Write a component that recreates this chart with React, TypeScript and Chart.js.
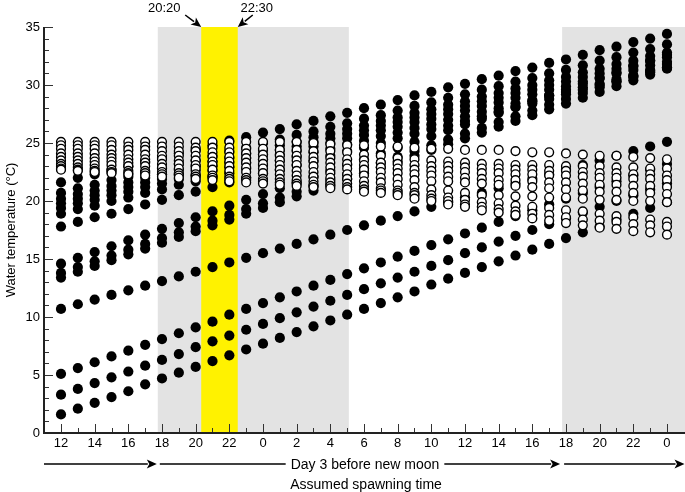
import React, { useEffect, useRef } from 'react';
import { Chart, registerables } from 'chart.js';

Chart.register(...registerables);

// Clock hour at each hourly sample (index 0 = 12:00 on the first day)
const clockHours = [12, 13, 14, 15, 16, 17, 18, 19, 20, 21, 22, 23, 0, 1, 2, 3, 4, 5, 6, 7, 8, 9, 10, 11, 12, 13, 14, 15, 16, 17, 18, 19, 20, 21, 22, 23, 0];
const tickLabels = ['12', '14', '16', '18', '20', '22', '0', '2', '4', '6', '8', '10', '12', '14', '16', '18', '20', '22', '0'];
const yTickValues = [0, 5, 10, 15, 20, 25, 30, 35];

// Shaded periods (hour index from 12:00)
const nightBands = [[5.75, 17.1], [29.77, 37.07]];
const spawnBand = [8.33, 10.5]; // 20:20 - 22:30

// Filled-circle series (water temperature, °C)
const filledL1 = [1.6, 2.1, 2.6, 3.1, 3.6, 4.2, 4.7, 5.2, 5.7, 6.2, 6.7, 7.2, 7.7, 8.2, 8.7, 9.2, 9.7, 10.2, 10.7, 11.2, 11.7, 12.2, 12.8, 13.3, 13.8, 14.3, 14.8, 15.3, 15.8, 16.3, 16.8, 17.3, 17.8, 18.4, 18.9, 19.4, 19.9];
const filledL2 = [3.3, 3.8, 4.3, 4.8, 5.3, 5.8, 6.3, 6.8, 7.4, 7.9, 8.4, 8.9, 9.4, 9.9, 10.4, 10.9, 11.4, 11.9, 12.4, 12.9, 13.4, 13.9, 14.4, 14.9, 15.5, 16.0, 16.5, 17.0, 17.5, 18.0, 18.5, 19.0, 19.5, 20.0, 20.5, 21.0, 21.5];
const filledL3 = [5.1, 5.6, 6.1, 6.6, 7.1, 7.6, 8.1, 8.6, 9.1, 9.6, 10.2, 10.7, 11.2, 11.7, 12.2, 12.7, 13.2, 13.7, 14.2, 14.7, 15.2, 15.7, 16.2, 16.7, 17.2, 17.7, 18.2, 18.7, 19.2, 19.7, 20.2, 20.7, 21.2, 21.7, 22.2, 22.7, 23.2];
const filledL4 = [10.7, 11.1, 11.5, 11.9, 12.3, 12.7, 13.1, 13.5, 13.9, 14.3, 14.7, 15.1, 15.5, 15.9, 16.3, 16.7, 17.1, 17.5, 17.9, 18.3, 18.7, 19.1, 19.5, 19.9, 20.3, 20.7, 21.1, 21.5, 21.9, 22.3, 22.7, 23.1, 23.5, 23.9, 24.3, 24.7, 25.1];
const filledL5 = [13.4, 13.9, 14.4, 14.9, 15.4, 15.9, 16.4, 16.9, 17.4, 17.9, 18.4, 18.9, 19.4, 19.9, 20.4, 20.9, 21.4, 21.9, 22.4, 22.9, 23.4, 23.9, 24.4, 24.9, 25.4, 25.9, 26.4, 26.9, 27.4, 27.9, 28.4, 28.9, 29.4, 29.9, 30.4, 30.9, 31.4];
const filledL6 = [13.8, 14.3, 14.8, 15.3, 15.8, 16.3, 16.8, 17.3, 17.8, 18.3, 18.8, 19.3, 19.8, 20.3, 20.8, 21.3, 21.8, 22.3, 22.8, 23.3, 23.8, 24.3, 24.8, 25.3, 25.8, 26.3, 26.8, 27.3, 27.8, 28.3, 28.8, 29.3, 29.8, 30.3, 30.8, 31.3, 31.8];
const filledL7 = [14.6, 15.1, 15.6, 16.1, 16.6, 17.1, 17.6, 18.1, 18.6, 19.1, 19.6, 20.1, 20.6, 21.1, 21.6, 22.1, 22.6, 23.1, 23.6, 24.1, 24.6, 25.1, 25.6, 26.1, 26.6, 27.1, 27.6, 28.1, 28.6, 29.1, 29.6, 30.1, 30.6, 31.1, 31.6, 32.1, 32.6];
const filledL8 = [17.8, 18.2, 18.6, 18.9, 19.3, 19.7, 20.1, 20.5, 20.8, 21.2, 21.6, 22.0, 22.4, 22.7, 23.1, 23.5, 23.9, 24.3, 24.6, 25.0, 25.4, 25.8, 26.2, 26.5, 26.9, 27.3, 27.7, 28.1, 28.4, 28.8, 29.2, 29.6, 30.0, 30.3, 30.7, 31.1, 31.5];
const filledL9 = [18.9, 19.3, 19.6, 20.0, 20.3, 20.7, 21.0, 21.4, 21.7, 22.1, 22.4, 22.8, 23.1, 23.5, 23.8, 24.2, 24.5, 24.9, 25.2, 25.6, 25.9, 26.3, 26.6, 27.0, 27.3, 27.7, 28.0, 28.4, 28.7, 29.1, 29.4, 29.8, 30.1, 30.5, 30.8, 31.2, 31.5];
const filledL10 = [19.4, 19.8, 20.1, 20.5, 20.8, 21.2, 21.5, 21.9, 22.2, 22.6, 22.9, 23.3, 23.6, 24.0, 24.3, 24.7, 25.0, 25.4, 25.7, 26.1, 26.4, 26.8, 27.1, 27.5, 27.8, 28.2, 28.5, 28.9, 29.2, 29.6, 29.9, 30.3, 30.6, 31.0, 31.3, 31.7, 32.0];
const filledL11 = [19.8, 20.2, 20.5, 20.9, 21.2, 21.6, 21.9, 22.3, 22.6, 23.0, 23.3, 23.7, 24.0, 24.4, 24.7, 25.1, 25.4, 25.8, 26.1, 26.5, 26.8, 27.2, 27.5, 27.9, 28.2, 28.6, 28.9, 29.3, 29.6, 30.0, 30.3, 30.7, 31.0, 31.4, 31.7, 32.1, 32.4];
const filledL12 = [20.2, 20.6, 20.9, 21.3, 21.6, 22.0, 22.3, 22.7, 23.0, 23.4, 23.7, 24.1, 24.4, 24.8, 25.1, 25.5, 25.8, 26.2, 26.5, 26.9, 27.2, 27.6, 27.9, 28.3, 28.6, 29.0, 29.3, 29.7, 30.0, 30.4, 30.7, 31.1, 31.4, 31.8, 32.1, 32.5, 32.8];
const filledL13 = [20.7, 21.1, 21.4, 21.8, 22.1, 22.5, 22.8, 23.2, 23.5, 23.9, 24.3, 24.6, 25.0, 25.3, 25.7, 26.0, 26.4, 26.7, 27.1, 27.4, 27.8, 28.2, 28.5, 28.9, 29.2, 29.6, 29.9, 30.3, 30.6, 31.0, 31.3, 31.7, 32.1, 32.4, 32.8, 33.1, 33.5];
const filledL14 = [21.6, 22.0, 22.3, 22.7, 23.0, 23.4, 23.7, 24.1, 24.4, 24.8, 25.2, 25.5, 25.9, 26.2, 26.6, 26.9, 27.3, 27.6, 28.0, 28.3, 28.7, 29.1, 29.4, 29.8, 30.1, 30.5, 30.8, 31.2, 31.5, 31.9, 32.2, 32.6, 33.0, 33.3, 33.7, 34.0, 34.4];

// Open-circle series (water temperature, °C)
const openO1 = [25.1, 25.1, 25.1, 25.1, 25.1, 25.1, 25.1, 25.1, 25.1, 25.1, 25.1, 25.1, 25.1, 25.1, 25.1, 25.0, 24.9, 24.8, 24.8, 24.7, 24.7, 24.6, 24.5, 24.5, 24.4, 24.4, 24.4, 24.3, 24.2, 24.2, 24.1, 24.0, 23.9, 23.9, 23.8, 23.7, 23.6];
const openO2 = [24.8, 24.8, 24.8, 24.8, 24.7, 24.7, 24.7, 24.7, 24.6, 24.6, 24.6, 24.5, 24.5, 24.4, 24.4, 24.3, 24.3, 24.2, 24.0, 23.9, 23.7, 23.6, 23.5, 23.4, 23.3, 23.2, 23.2, 23.1, 23.1, 23.1, 23.0, 23.0, 23.0, 22.9, 22.9, 22.8, 22.8];
const openO3 = [24.5, 24.5, 24.5, 24.4, 24.4, 24.4, 24.3, 24.3, 24.3, 24.2, 24.2, 24.1, 24.0, 23.9, 23.9, 23.8, 23.7, 23.6, 23.5, 23.3, 23.2, 23.1, 23.0, 23.0, 22.9, 22.8, 22.8, 22.7, 22.7, 22.6, 22.6, 22.5, 22.4, 22.4, 22.3, 22.3, 22.2];
const openO4 = [24.1, 24.1, 24.1, 24.0, 24.0, 24.0, 23.9, 23.9, 23.9, 23.8, 23.8, 23.7, 23.6, 23.5, 23.5, 23.4, 23.3, 23.2, 23.1, 22.9, 22.8, 22.7, 22.6, 22.6, 22.5, 22.4, 22.4, 22.3, 22.3, 22.2, 22.2, 22.1, 22.0, 22.0, 21.9, 21.9, 21.8];
const openO5 = [23.8, 23.8, 23.7, 23.7, 23.6, 23.6, 23.6, 23.5, 23.5, 23.4, 23.4, 23.3, 23.2, 23.1, 23.1, 23.0, 22.9, 22.8, 22.7, 22.5, 22.4, 22.3, 22.2, 22.1, 22.0, 21.9, 21.8, 21.8, 21.7, 21.6, 21.6, 21.5, 21.4, 21.4, 21.3, 21.3, 21.2];
const openO6 = [23.5, 23.5, 23.4, 23.4, 23.3, 23.3, 23.2, 23.2, 23.1, 23.1, 23.0, 22.9, 22.8, 22.7, 22.6, 22.5, 22.4, 22.3, 22.2, 22.0, 21.9, 21.8, 21.7, 21.7, 21.6, 21.5, 21.4, 21.3, 21.2, 21.1, 21.0, 20.9, 20.8, 20.8, 20.7, 20.7, 20.6];
const openO7 = [23.2, 23.2, 23.1, 23.1, 23.0, 23.0, 22.9, 22.8, 22.8, 22.7, 22.6, 22.5, 22.4, 22.3, 22.2, 22.1, 22.0, 21.9, 21.7, 21.6, 21.4, 21.2, 21.0, 20.9, 20.7, 20.5, 20.5, 20.4, 20.4, 20.3, 20.3, 20.2, 20.1, 20.1, 20.0, 20.0, 19.9];
const openO8 = [23.0, 22.9, 22.8, 22.7, 22.6, 22.6, 22.5, 22.4, 22.3, 22.2, 22.1, 22.0, 21.9, 21.9, 21.8, 21.7, 21.6, 21.5, 21.3, 21.1, 20.9, 20.7, 20.5, 20.3, 20.1, 19.9, 19.8, 19.6, 19.5, 19.4, 19.2, 19.1, 18.9, 18.7, 18.6, 18.4, 18.2];
const openO9 = [22.8, 22.7, 22.6, 22.5, 22.4, 22.4, 22.3, 22.2, 22.1, 22.0, 21.9, 21.8, 21.7, 21.6, 21.5, 21.4, 21.3, 21.2, 21.0, 20.9, 20.7, 20.5, 20.2, 20.0, 19.7, 19.5, 19.3, 19.1, 18.9, 18.8, 18.6, 18.4, 18.3, 18.2, 18.0, 17.9, 17.8];
const openO10 = [22.7, 22.6, 22.5, 22.4, 22.3, 22.2, 22.1, 22.0, 21.9, 21.8, 21.7, 21.6, 21.5, 21.4, 21.3, 21.2, 21.1, 21.0, 20.8, 20.7, 20.5, 20.2, 20.0, 19.7, 19.5, 19.2, 19.0, 18.8, 18.5, 18.3, 18.1, 17.9, 17.7, 17.6, 17.4, 17.3, 17.1];

const filledSeries = [filledL1, filledL2, filledL3, filledL4, filledL5, filledL6, filledL7, filledL8, filledL9, filledL10, filledL11, filledL12, filledL13, filledL14];
const openSeries = [openO1, openO2, openO3, openO4, openO5, openO6, openO7, openO8, openO9, openO10];

const FONT = "'Liberation Sans', Arial, Helvetica, sans-serif";

function toPoints(series: number[][]) {
  const pts: { x: number; y: number }[] = [];
  series.forEach((s) => s.forEach((v, i) => { if (i < clockHours.length) pts.push({ x: i, y: v }); }));
  return pts;
}

function arrow(ctx: CanvasRenderingContext2D, x0: number, y0: number, x1: number, y1: number, head = 9, half = 3.6, lw = 1.5) {
  const a = Math.atan2(y1 - y0, x1 - x0);
  const bx = x1 - head * Math.cos(a);
  const by = y1 - head * Math.sin(a);
  ctx.beginPath();
  ctx.lineWidth = lw;
  ctx.moveTo(x0, y0);
  ctx.lineTo(bx + Math.cos(a) * 1, by + Math.sin(a) * 1);
  ctx.stroke();
  ctx.beginPath();
  ctx.moveTo(x1, y1);
  ctx.lineTo(bx + half * Math.sin(a), by - half * Math.cos(a));
  ctx.lineTo(bx + head * 0.25 * Math.cos(a), by + head * 0.25 * Math.sin(a));
  ctx.lineTo(bx - half * Math.sin(a), by + half * Math.cos(a));
  ctx.closePath();
  ctx.fill();
}

const bandsPlugin = {
  id: 'bands',
  beforeDraw(chart: any) {
    const { ctx, chartArea: ca, scales } = chart;
    const x = scales.x;
    ctx.save();
    ctx.fillStyle = '#e3e3e3';
    nightBands.forEach(([a, b]) => {
      const x0 = Math.max(ca.left, x.getPixelForValue(a));
      const x1 = Math.min(ca.right, x.getPixelForValue(b));
      ctx.fillRect(x0, ca.top, x1 - x0, ca.bottom - ca.top);
    });
    ctx.fillStyle = '#fff200';
    const s0 = x.getPixelForValue(spawnBand[0]);
    const s1 = x.getPixelForValue(spawnBand[1]);
    ctx.fillRect(s0, ca.top, s1 - s0, ca.bottom - ca.top);
    ctx.restore();
  },
  afterDraw(chart: any) {
    const { ctx, chartArea: ca, scales } = chart;
    const x = scales.x;
    const y = scales.y;
    ctx.save();
    // tick marks (inward)
    ctx.strokeStyle = '#333';
    ctx.lineWidth = 1;
    for (let i = 0; i < clockHours.length; i++) {
      const px = Math.round(x.getPixelForValue(i)) + 0.5;
      const len = i % 2 === 0 ? 9 : 5;
      ctx.beginPath();
      ctx.moveTo(px, ca.bottom);
      ctx.lineTo(px, ca.bottom - len);
      ctx.stroke();
    }
    for (let v = 1; v <= 35; v++) {
      const py = Math.round(y.getPixelForValue(v)) + 0.5;
      const len = v % 5 === 0 ? 9 : 5;
      ctx.beginPath();
      ctx.moveTo(ca.left, py);
      ctx.lineTo(ca.left + len, py);
      ctx.stroke();
    }
    // axis lines
    ctx.strokeStyle = '#222';
    ctx.lineWidth = 2;
    ctx.beginPath();
    ctx.moveTo(ca.left, ca.top);
    ctx.lineTo(ca.left, ca.bottom);
    ctx.lineTo(ca.right, ca.bottom);
    ctx.stroke();

    ctx.fillStyle = '#000';
    ctx.strokeStyle = '#000';
    // top annotations
    const s0 = x.getPixelForValue(spawnBand[0]);
    const s1 = x.getPixelForValue(spawnBand[1]);
    arrow(ctx, s0 - 16, ca.top - 12, s0, ca.top, 10, 4.5, 1.5);
    arrow(ctx, s1 + 15, ca.top - 12, s1, ca.top, 10, 4.5, 1.5);
    ctx.font = `13px ${FONT}`;
    ctx.textBaseline = 'middle';
    ctx.textAlign = 'center';
    ctx.fillText('20:20', s0 - 37, 8);
    ctx.fillText('22:30', s1 + 19, 8);

    // bottom arrows
    const ay = 464;
    const n0 = x.getPixelForValue(nightBands[0][0]);
    const n1 = x.getPixelForValue(nightBands[1][0]);
    arrow(ctx, ca.left, ay, n0 - 1, ay, 10, 4.5, 1.5);
    arrow(ctx, n0 + 2, ay, n1 - 2, ay, 10, 4.5, 1.5);
    arrow(ctx, n1 + 2, ay, ca.right - 0.5, ay, 10, 4.5, 1.5);
    ctx.font = `14px ${FONT}`;
    const cx = x.getPixelForValue(18) + 1;
    const label = 'Day 3 before new moon';
    const w = ctx.measureText(label).width;
    ctx.fillStyle = '#fff';
    ctx.fillRect(cx - w / 2 - 5, ay - 8, w + 10, 16);
    ctx.fillStyle = '#000';
    ctx.fillText(label, cx, ay + 1);
    ctx.fillText('Assumed spawning time', cx + 1, 485);

    // y title
    ctx.save();
    ctx.translate(11, (ca.top + ca.bottom) / 2);
    ctx.rotate(-Math.PI / 2);
    ctx.font = `13px ${FONT}`;
    ctx.fillText('Water temperature (°C)', 0, 0);
    ctx.restore();
    ctx.restore();
  },
};

export default function App() {
  const ref = useRef<HTMLCanvasElement | null>(null);
  useEffect(() => {
    document.body.style.margin = '0';
    const canvas = ref.current;
    if (!canvas) return;
    const chart = new Chart(canvas, {
      type: 'scatter',
      data: {
        datasets: [
          {
            label: 'open',
            data: toPoints(openSeries),
            pointRadius: 4.4,
            pointBorderWidth: 1.4,
            pointBackgroundColor: '#ffffff',
            pointBorderColor: '#000000',
            pointHoverRadius: 4.4,
          },
          {
            label: 'filled',
            data: toPoints(filledSeries),
            pointRadius: 5.1,
            pointBorderWidth: 0,
            pointBackgroundColor: '#000000',
            pointBorderColor: '#000000',
            pointHoverRadius: 5.1,
          },
        ],
      },
      plugins: [bandsPlugin],
      options: {
        animation: false,
        responsive: false,
        devicePixelRatio: 1,
        layout: { autoPadding: false, padding: { top: 27, right: 0, bottom: 0, left: 0 } },
        plugins: { legend: { display: false }, tooltip: { enabled: false }, title: { display: false } },
        scales: {
          x: {
            type: 'linear',
            min: -1.01,
            max: 37.07,
            grid: { display: false, drawTicks: false },
            border: { display: false },
            afterFit: (s: any) => { s.height = 59; s.paddingLeft = 0; s.paddingRight = 0; },
            afterBuildTicks: (s: any) => { s.ticks = tickLabels.map((_, i) => ({ value: i * 2 })); },
            ticks: {
              autoSkip: false,
              maxRotation: 0,
              padding: 3,
              color: '#000',
              font: { family: FONT, size: 13 },
              callback: (_v: any, i: number) => tickLabels[i],
            },
          },
          y: {
            type: 'linear',
            min: 0,
            max: 35,
            grid: { display: false, drawTicks: false },
            border: { display: false },
            afterFit: (s: any) => { s.width = 44; s.paddingTop = 0; s.paddingBottom = 0; },
            afterBuildTicks: (s: any) => { s.ticks = yTickValues.map((v) => ({ value: v })); },
            ticks: {
              padding: 4,
              color: '#000',
              font: { family: FONT, size: 13 },
              callback: (v: any) => String(v),
            },
          },
        },
      },
    });
    return () => chart.destroy();
  }, []);
  return (
    <canvas ref={ref} width={685} height={492} style={{ display: 'block', width: 685, height: 492 }} />
  );
}
